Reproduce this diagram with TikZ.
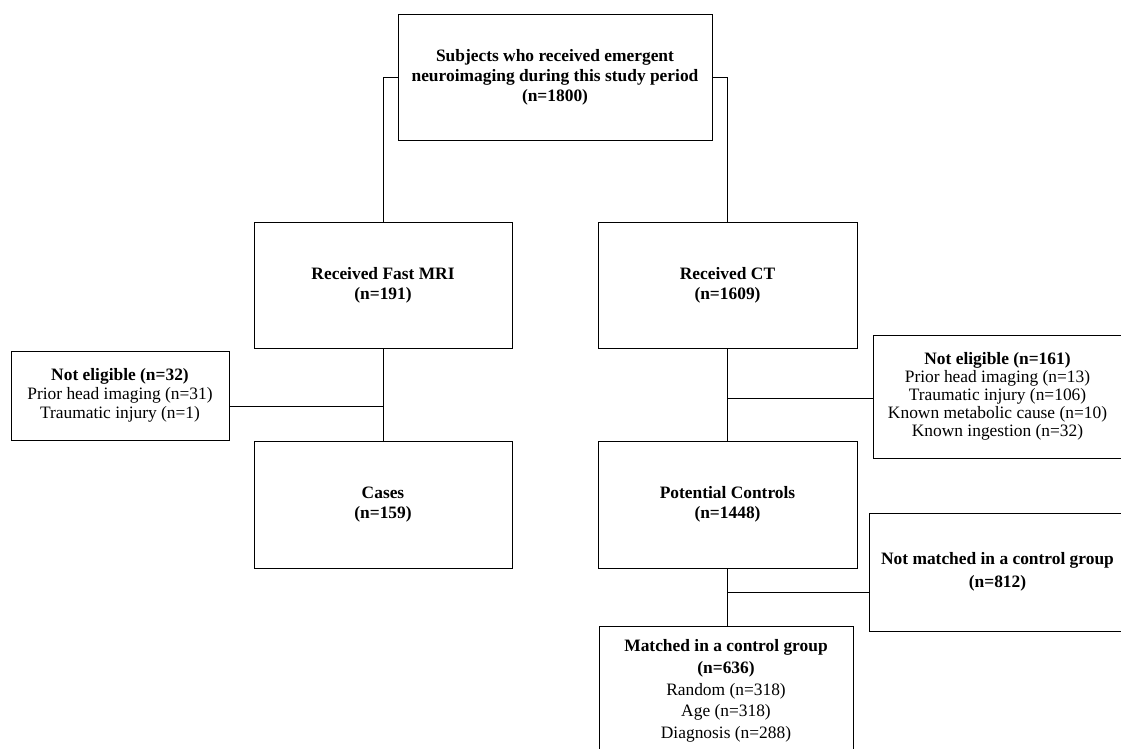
\documentclass[tikz,border=0pt]{standalone}
\usepackage{fontspec}
\setmainfont{Liberation Serif}
\tikzset{
  caja/.style={draw, rectangle, line width=0.8pt, align=center, inner sep=0pt,
    font=\fontsize{17.4}{20}\selectfont},
  linea/.style={line width=0.8pt}
}
\begin{document}
\begin{tikzpicture}[x=1pt, y=-1pt]
    % Marco de la figura
    \useasboundingbox (0,0) rectangle (1121,749);
    \clip (0,0) rectangle (1121,749);

    % Cajas principales
    \node[caja, minimum width=314, minimum height=126] (total) at (555,77)
        {\textbf{Subjects who received emergent}\\ \textbf{neuroimaging during this study period}\\ \textbf{(n=1800)}};
    \node[caja, minimum width=258, minimum height=126] (mri) at (383,285)
        {\textbf{Received Fast MRI}\\ \textbf{(n=191)}};
    \node[caja, minimum width=259, minimum height=126] (ct) at (727.5,285)
        {\textbf{Received CT}\\ \textbf{(n=1609)}};
    \node[caja, minimum width=258, minimum height=127] (casos) at (383,504.5)
        {\textbf{Cases}\\ \textbf{(n=159)}};
    \node[caja, minimum width=259, minimum height=127] (potencial) at (727.5,504.5)
        {\textbf{Potential Controls}\\ \textbf{(n=1448)}};
    \node[caja, minimum width=254, minimum height=130, font=\fontsize{17.4}{21.7}\selectfont] (emparejados) at (726,691)
        {\textbf{Matched in a control group}\\ \textbf{(n=636)}\\ Random (n=318)\\ Age (n=318)\\ Diagnosis (n=288)};

    % Cajas de exclusion
    \node[caja, minimum width=218, minimum height=89, font=\fontsize{17.4}{18.7}\selectfont] (excl1) at (120,395.5)
        {\textbf{Not eligible (n=32)}\\ Prior head imaging (n=31)\\ Traumatic injury (n=1)};
    \node[caja, minimum width=249, minimum height=123, font=\fontsize{17.4}{18.1}\selectfont] (excl2) at (997.5,396.5)
        {\textbf{Not eligible (n=161)}\\ Prior head imaging (n=13)\\ Traumatic injury (n=106)\\ Known metabolic cause (n=10)\\ Known ingestion (n=32)};
    \node[caja, minimum width=257, minimum height=118, font=\fontsize{17.4}{23}\selectfont] (noemp) at (997.5,572)
        {\textbf{Not matched in a control group}\\ \textbf{(n=812)}};

    % Puntos de union
    \coordinate (u1) at (383,406);
    \coordinate (u2) at (727.5,398);
    \coordinate (u3) at (727.5,592);

    % Conectores
    \draw[linea] (total.west) -| (mri.north);
    \draw[linea] (total.east) -| (ct.north);
    \draw[linea] (mri) -- (casos);
    \draw[linea] (ct) -- (potencial);
    \draw[linea] (potencial.south) -- (potencial.south |- emparejados.north);
    \draw[linea] (excl1.east |- u1) -- (u1);
    \draw[linea] (u2) -- (excl2.west |- u2);
    \draw[linea] (u3) -- (noemp.west |- u3);
\end{tikzpicture}
\end{document}
